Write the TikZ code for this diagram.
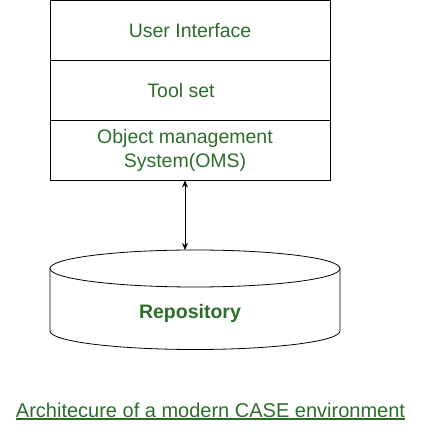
\documentclass[tikz,border=0pt]{standalone}
\usepackage{fontspec}
\setmainfont{Liberation Sans}
\usepackage{xcolor}
\usetikzlibrary{positioning, arrows.meta}
\definecolor{case_green}{HTML}{2A6E2A}

\begin{document}
\begin{tikzpicture}[x=1pt, y=1pt,
        layer/.style={draw, line width=0.9pt, minimum width=280pt, minimum height=60pt, outer sep=0pt, inner sep=0pt},
        txt/.style={text=case_green, font=\fontsize{19.5}{24}\selectfont, align=center, inner sep=0pt}]
                \useasboundingbox (0,0) rectangle (421,441);
                \node[layer] (ui) at (190,410.5) {};
                \node[layer, below=0pt of ui] (tools) {};
                \node[layer, below=0pt of tools] (oms) {};
                \node[txt] (uitext) at (ui) {User Interface};
                \node[txt, xshift=-9pt] (toolstext) at (tools) {Tool set};
                \node[txt, xshift=-5pt] (omstext) at (oms) {Object management\\System(OMS)};
                \coordinate (repotop) at (185,191);
                \draw[line width=0.8pt] (50,172.5) -- (50,110) arc[start angle=180, end angle=360, x radius=145, y radius=18.5] -- (340,172.5);
                \draw[line width=0.8pt] (195,172.5) ellipse [x radius=145, y radius=18.5];
                \node[txt, font=\fontsize{19.5}{24}\selectfont\bfseries] (repo) at (190,128) {Repository};
                \draw[{Stealth[length=7pt, width=6pt]}-{Stealth[length=7pt, width=6pt]}, line width=0.8pt] (oms.south -| repotop) -- (repotop);
                \node[txt, font=\fontsize{20}{24}\selectfont] (caption) at (210.5,31) {Architecure of a modern CASE environment};
                \fill[case_green] (16,21) rectangle (405,22.5);

            \end{tikzpicture}
\end{document}
